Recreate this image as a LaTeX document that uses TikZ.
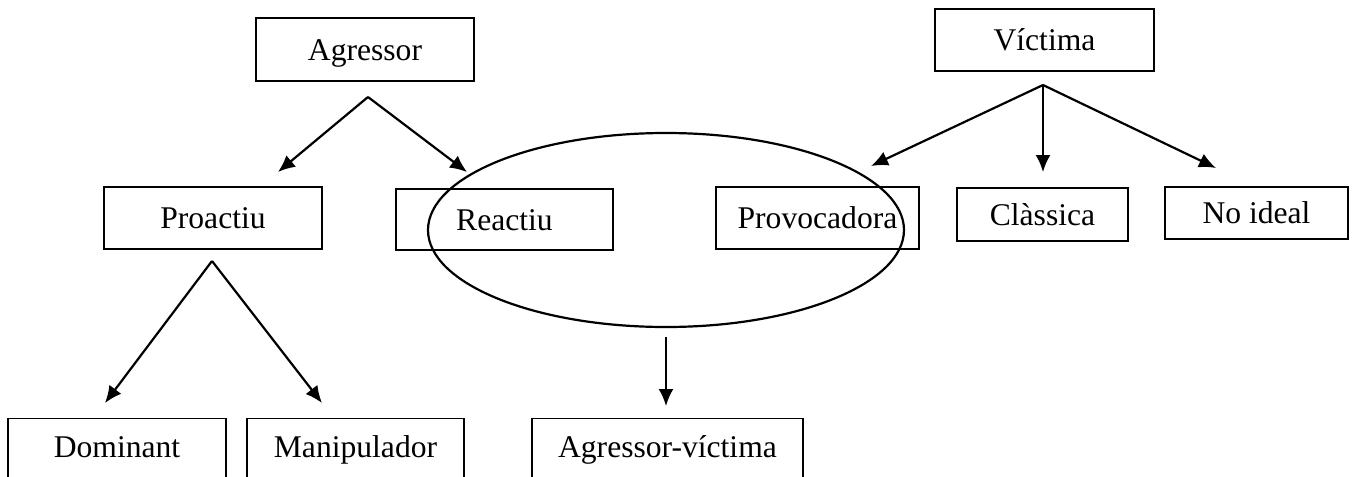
\documentclass[tikz,border=0pt]{standalone}
\usepackage{fontspec}
\setmainfont{Liberation Serif}
\usepackage{tikz}
\usetikzlibrary{shapes}
\usetikzlibrary{arrows.meta}
\tikzset{
  box/.style={rectangle,draw,line width=0.65pt,font=\fontsize{15.8}{19}\selectfont,
    text height=10.7pt,text depth=0pt,inner sep=0pt},
  cut box/.style={box,anchor=north,minimum height=41pt,text depth=12.5pt},
  group/.style={ellipse,draw,line width=1.1pt,inner sep=0pt}
}

\begin{document}
\begin{tikzpicture}[x=0.5pt,y=-0.5pt,->,>={Latex[length=8.5pt,width=7.5pt]},line width=1.1pt]
        \clip (0,0) rectangle (1357,477);
        \node [box,minimum width=109pt,minimum height=31.5pt] (agr) at (365,49.5) {Agressor};
        \node [box,minimum width=109.5pt,minimum height=31pt] (vic) at (1044.5,40) {V\'ictima};
        \node [box,minimum width=109pt,minimum height=31pt] (pro) at (213,218) {Proactiu};
        \node [box,minimum width=108.5pt,minimum height=30.5pt] (rea) at (504.5,219.5) {Reactiu};
        \node [box,minimum width=101.5pt,minimum height=31pt] (prv) at (817.5,218) {Provocadora};
        \node [box,minimum width=85.5pt,minimum height=26.5pt] (cla) at (1042.5,214.5) {Cl\`assica};
        \node [box,minimum width=91.5pt,minimum height=26pt] (noi) at (1256.5,213) {No ideal};
        \node [cut box,minimum width=109pt] (dom) at (117,418) {Dominant};
        \node [cut box,minimum width=108.5pt] (man) at (355.5,418) {Manipulador};
        \node [cut box,minimum width=135.5pt] (agv) at (667.5,418) {Agressor-v\'ictima};
        \node [group,minimum width=238pt,minimum height=97pt] (grp) at (666,230) {};

        \coordinate (agr fork) at (368,97);
        \coordinate (agr left) at (278,172);
        \coordinate (agr right) at (467,172);
        \coordinate (vic fork) at (1043,85);
        \coordinate (vic left) at (871,166);
        \coordinate (vic mid) at (1043,172);
        \coordinate (vic right) at (1216,168);
        \coordinate (pro fork) at (212,261);
        \coordinate (pro left) at (105,403);
        \coordinate (pro right) at (322,403);

        \draw (agr fork) -- (agr left);
        \draw (agr fork) -- (agr right);
        \draw (vic fork) -- (vic left);
        \draw (vic fork) -- (vic mid);
        \draw (vic fork) -- (vic right);
        \draw (pro fork) -- (pro left);
        \draw (pro fork) -- (pro right);
        \draw [shorten <=4.5pt,shorten >=6pt] (grp.south) -- (grp.south |- agv.north);
      \end{tikzpicture}
\end{document}
